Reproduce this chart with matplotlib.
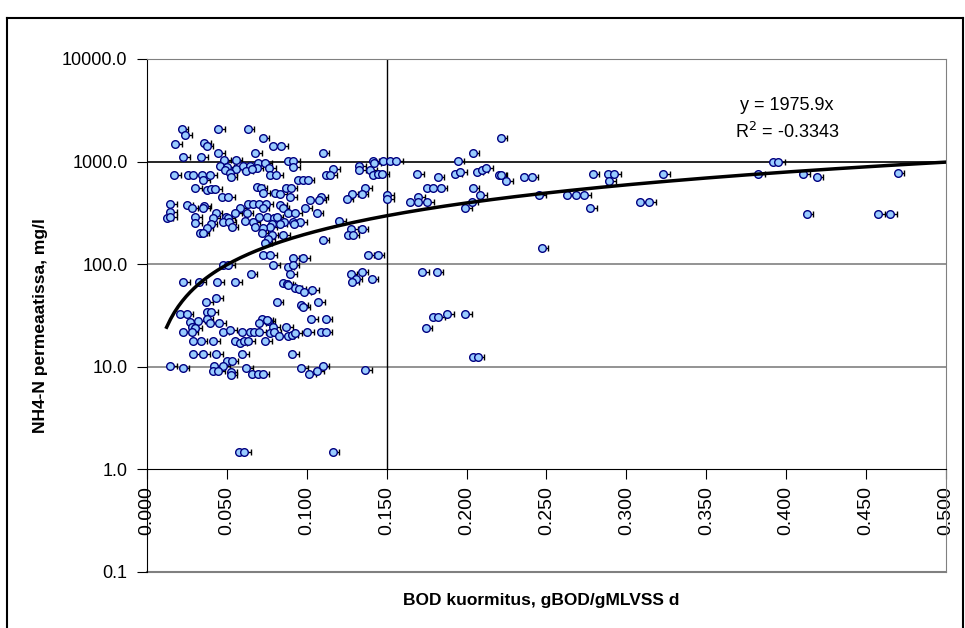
import matplotlib
matplotlib.use('Agg')
import matplotlib.pyplot as plt
import numpy as np
from matplotlib.lines import Line2D

# BOD kuormitus (x) ja NH4-N permeaatissa (y), luettu kuvasta
bod = [
    0.0217, 0.0238, 0.0446, 0.0630, 0.0175, 0.0359, 0.0374, 0.0724, 0.0790, 0.0839,
    0.0446, 0.0676, 0.1100, 0.0227, 0.0338, 0.0484, 0.0555, 0.0884, 0.0916, 0.0457,
    0.0503, 0.0555, 0.0603, 0.0645, 0.0697, 0.0738, 0.0686, 0.0620, 0.0655, 0.0763,
    0.0916, 0.1166, 0.0488, 0.0519, 0.0524, 0.0171, 0.0255, 0.0290, 0.0342, 0.0394,
    0.0770, 0.0807, 0.1118, 0.1145, 0.0352, 0.0947, 0.0978, 0.1006, 0.0300, 0.0690,
    0.0712, 0.0868, 0.0899, 0.0377, 0.0401, 0.0426, 0.0728, 0.0801, 0.0832, 0.0467,
    0.0509, 0.0895, 0.1089, 0.1020, 0.1076, 0.0144, 0.0248, 0.0280, 0.0359, 0.0352,
    0.0582, 0.0634, 0.0665, 0.0703, 0.0745, 0.0724, 0.0832, 0.0849, 0.0989, 0.0144,
    0.0430, 0.0551, 0.0624, 0.0880, 0.0926, 0.1062, 0.0123, 0.0144, 0.0300, 0.0415,
    0.0492, 0.0509, 0.0701, 0.0749, 0.0797, 0.0812, 0.0474, 0.0515, 0.0613, 0.0665,
    0.0857, 0.0912, 0.0957, 0.0300, 0.0399, 0.0780, 0.0832, 0.0922, 0.0676, 0.0770,
    0.0530, 0.0374, 0.0728, 0.0332, 0.0349, 0.0718, 0.0780, 0.0853, 0.0759, 0.0738,
    0.1100, 0.0728, 0.0770, 0.0912, 0.0978, 0.1203,
    0.0477, 0.0509, 0.0790, 0.0880, 0.0912, 0.0895, 0.0649, 0.0227, 0.0327, 0.0440,
    0.0551, 0.0849, 0.0874, 0.0926, 0.0953, 0.0982, 0.1034, 0.0884, 0.0432, 0.0369,
    0.0812, 0.1072, 0.0964, 0.0978, 0.0374, 0.0401, 0.0207, 0.0248, 0.1026, 0.1118,
    0.0374, 0.0269, 0.0321, 0.0394, 0.0452, 0.0718, 0.0759, 0.0701, 0.0749, 0.0790,
    0.0870, 0.0280, 0.0300, 0.0223, 0.0280, 0.0474, 0.0519, 0.0593, 0.0645, 0.0670,
    0.0701, 0.0770, 0.0797, 0.0828, 0.0880, 0.0906, 0.0926, 0.1003, 0.1087, 0.1118,
    0.0286, 0.0336, 0.0415, 0.0551, 0.0582, 0.0607, 0.0634, 0.0738, 0.0290, 0.0352,
    0.0432, 0.0596, 0.0909, 0.0499, 0.0530, 0.0144, 0.0223, 0.0421, 0.0477, 0.0415,
    0.0446, 0.0524, 0.0524, 0.0620, 0.0655, 0.0693, 0.0724, 0.0964, 0.1014, 0.1066,
    0.1100,
    0.1329, 0.1329, 0.1395, 0.1412, 0.1422, 0.1479, 0.1521, 0.1558, 0.1412, 0.1447,
    0.1472, 0.1691, 0.1819, 0.1944, 0.2038, 0.2213, 0.1927, 0.1959, 0.2063, 0.2094,
    0.2121, 0.2205, 0.2213, 0.2247, 0.2361, 0.2407, 0.2789, 0.2887, 0.2924, 0.2893,
    0.1364, 0.1281, 0.1344, 0.1250, 0.1504, 0.1504, 0.1750, 0.1792, 0.1838, 0.2038,
    0.2084, 0.1698, 0.1646, 0.1698, 0.1754, 0.2032, 0.1990, 0.2455, 0.2630, 0.2685,
    0.2737, 0.2772, 0.1277, 0.1344, 0.1256, 0.1287, 0.1381, 0.1444, 0.2470, 0.1275,
    0.1344, 0.1306, 0.1285, 0.1406, 0.1723, 0.1813,
    0.3231, 0.3085, 0.3143, 0.3825, 0.3919, 0.3951, 0.4107, 0.4191, 0.4128, 0.4576,
    0.4650, 0.4698,
    0.1792, 0.1823, 0.1879, 0.1990, 0.1744, 0.2038, 0.2069, 0.1364, 0.1162, 0.0578,
    0.0609,
]
nh4 = [
    2093, 1813, 2093, 2093, 1494, 1504, 1416, 1710, 1416, 1416,
    1202, 1202, 1202, 1106, 1106, 1027, 1027, 1011, 1011, 904,
    884, 853, 904, 904, 960, 960, 872, 808, 839, 872,
    884, 839, 821, 779, 706, 745, 745, 745, 745, 745,
    745, 745, 745, 745, 656, 666, 666, 666, 548, 564,
    548, 548, 548, 524, 536, 536, 498, 498, 487, 451,
    451, 451, 455, 419, 421, 383, 374, 350, 368, 350,
    355, 383, 383, 383, 383, 350, 377, 350, 350, 325,
    318, 318, 318, 318, 318, 318, 280, 288, 290, 284,
    290, 280, 290, 290, 284, 290, 260, 260, 263, 260,
    260, 260, 260, 254, 244, 244, 248, 248, 232, 232,
    232, 223, 223, 203, 203, 203, 191, 192, 174, 162,
    172, 124, 124, 116, 116, 263,
    97.3, 97.3, 97.3, 94.5, 97.3, 79.6, 79.6, 66.9, 66.9, 66.9,
    66.9, 66.0, 63.6, 59.0, 56.8, 53.5, 55.5, 62.1, 47.2, 43.1,
    43.1, 43.1, 39.7, 38.2, 34.4, 34.4, 32.9, 32.9, 29.2, 29.2,
    29.0, 27.3, 27.9, 26.5, 26.5, 29.0, 27.9, 26.9, 28.5, 24.4,
    24.4, 24.4, 23.7, 21.8, 21.8, 21.8, 22.8, 21.8, 21.8, 21.8,
    21.8, 21.2, 21.8, 19.9, 19.9, 20.4, 21.2, 21.8, 21.8, 21.8,
    17.8, 17.8, 17.8, 17.8, 16.9, 17.8, 17.8, 17.8, 13.4, 13.4,
    13.4, 13.4, 13.4, 11.4, 11.4, 10.2, 9.65, 10.2, 10.2, 9.08,
    9.08, 8.96, 8.25, 9.65, 8.43, 8.43, 8.43, 9.65, 8.43, 9.08,
    10.2,
    904, 827, 827, 1011, 976, 1011, 1011, 1011, 734, 750,
    750, 750, 706, 1011, 1202, 1710, 750, 790, 790, 827,
    859, 734, 734, 646, 706, 706, 750, 750, 750, 646,
    548, 479, 479, 428, 472, 428, 548, 548, 548, 548,
    468, 455, 407, 407, 407, 407, 355, 468, 468, 468,
    468, 355, 222, 222, 191, 191, 123, 123, 143, 79.6,
    83.7, 71.1, 66.9, 71.1, 83.7, 83.7,
    750, 407, 407, 762, 998, 998, 762, 706, 306, 306,
    306, 767,
    30.8, 30.8, 32.4, 32.4, 24.0, 12.4, 12.4, 9.22, 1.47, 1.47,
    1.47,
]

slope = 1975.9
r2 = -0.3343
y_ticks = [0.1, 1, 10, 100, 1000, 10000]
y_labels = ['0.1', '1.0', '10.0', '100.0', '1000.0', '10000.0']
x_ticks = [0.0, 0.05, 0.10, 0.15, 0.20, 0.25, 0.30, 0.35, 0.40, 0.45, 0.50]

plt.rcParams['font.family'] = ['Liberation Sans', 'DejaVu Sans']

fig = plt.figure(figsize=(9.65, 6.28), dpi=100)
ax = fig.add_axes([0.1523, 0.0892, 0.8280, 0.8169])

ax.set_yscale('log')
ax.set_xlim(0, 0.5)
ax.set_ylim(0.1, 10000)

# apuviivat
for lvl in [10, 100]:
    ax.axhline(lvl, color='#808080', lw=1.2, zorder=1)
ax.axhline(1000, color='black', lw=1.2, zorder=1)
ax.plot([0.15, 0.15], [1, 10000], color='black', lw=1.0, zorder=1)

# pisteet + virhepalkit
ax.errorbar(bod, nh4, xerr=[np.zeros(len(bod)), np.full(len(bod), 0.0042)],
            fmt='none', ecolor='black', elinewidth=1, capsize=2, capthick=1, zorder=2)
ax.plot(bod, nh4, 'o', ms=5.5, mfc='#99CCFF', mec='#000080', mew=1, zorder=3)

# trendiviiva y = 1975.9x
xt = np.linspace(min(bod), 0.5, 200)
ax.plot(xt, slope * xt, color='black', lw=2.5, zorder=4)

ax.text(0.801, 0.910, 'y = 1975.9x', transform=ax.transAxes, ha='center', va='center', fontsize=13)
ax.text(0.801, 0.857, 'R$^2$ = %.4f' % r2, transform=ax.transAxes, ha='center', va='center', fontsize=13)

# akselit
ax.spines['bottom'].set_position(('data', 1))
ax.spines['bottom'].set_color('black')
ax.spines['left'].set_color('black')
ax.spines['top'].set_color('#808080')
ax.spines['right'].set_color('#808080')
ax.axhline(0.1, color='#808080', lw=1.5, clip_on=False, zorder=1)

ax.set_yticks(y_ticks)
ax.set_yticklabels(y_labels)
ax.yaxis.set_minor_locator(matplotlib.ticker.NullLocator())
ax.set_xticks(x_ticks)
ax.set_xticklabels(['%.3f' % v for v in x_ticks], rotation=90)
ax.tick_params(axis='y', direction='out', length=7, labelsize=13, pad=7)
ax.tick_params(axis='x', direction='out', length=7, labelsize=14, pad=5)

fig.text(41 / 965, 1 - 326 / 628, 'NH4-N permeaatissa, mg/l', rotation=90,
         ha='center', va='center', fontsize=12.5, fontweight='bold')
fig.text(541 / 965, 1 - 601 / 628, 'BOD kuormitus, gBOD/gMLVSS d',
         ha='center', va='center', fontsize=12.5, fontweight='bold')

# kuvan kehys
for xs, ys in [([0.007, 0.007], [-0.01, 0.971]), ([0.007, 0.998], [0.971, 0.971]),
               ([0.998, 0.998], [0.971, -0.01])]:
    fig.add_artist(Line2D(xs, ys, color='black', lw=1.5, transform=fig.transFigure))

plt.savefig('out.png', dpi=100)
